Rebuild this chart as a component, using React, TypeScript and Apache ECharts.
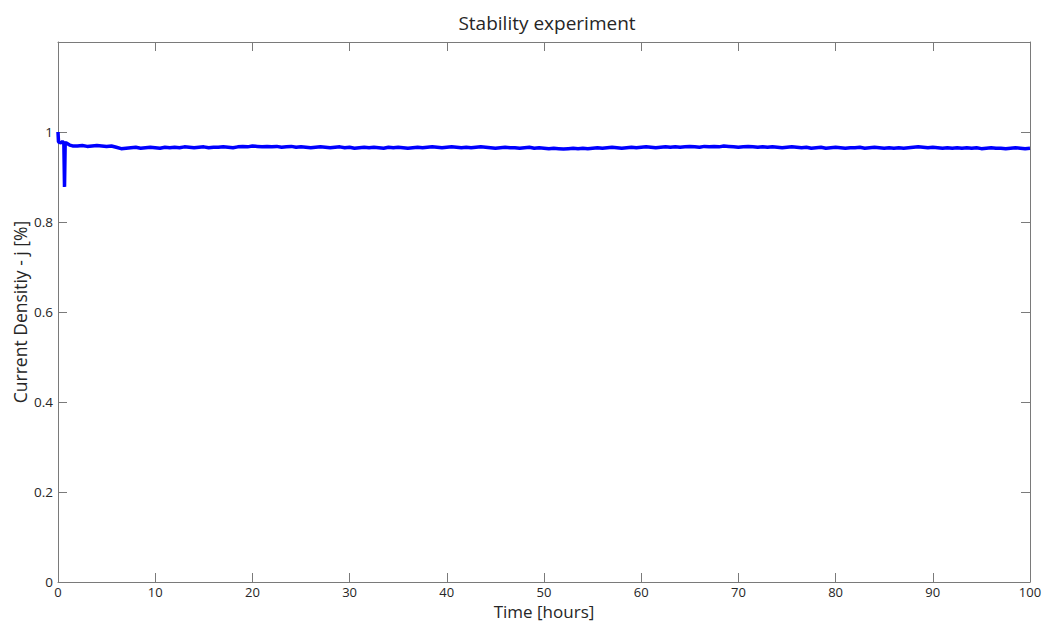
import React, { useEffect, useRef } from "react";
import * as echarts from "echarts";

const titleText = "Stability experiment";
const xName = "Time [hours]";
const yName = "Current Densitiy - j [%]";

// initial transient (hours, relative current density)
const startTimes = [0, 0.05, 0.15, 0.3, 0.45, 0.6, 0.67, 0.74, 0.9, 1.2, 1.5];
const startValues = [1.0, 0.978, 0.977, 0.976, 0.979, 0.976, 0.878, 0.976, 0.975, 0.971, 0.969];

// regular samples every 0.5 h from 2 h to 100 h
const regularStart = 2;
const regularStep = 0.5;
const regularValues = [
  0.969, 0.970, 0.968, 0.969, 0.970, 0.969, 0.968, 0.969, 0.966, 0.963,
  0.964, 0.965, 0.966, 0.964, 0.965, 0.966, 0.965, 0.964, 0.966, 0.965,
  0.966, 0.965, 0.967, 0.966, 0.965, 0.966, 0.967, 0.965, 0.966, 0.966,
  0.967, 0.966, 0.965, 0.967, 0.968, 0.967, 0.969, 0.968, 0.967, 0.968,
  0.967, 0.968, 0.966, 0.967, 0.968, 0.966, 0.967, 0.966, 0.965, 0.966,
  0.967, 0.966, 0.965, 0.966, 0.967, 0.965, 0.966, 0.964, 0.965, 0.966,
  0.965, 0.966, 0.965, 0.964, 0.966, 0.965, 0.966, 0.965, 0.964, 0.965,
  0.966, 0.965, 0.966, 0.967, 0.966, 0.965, 0.966, 0.967, 0.966, 0.965,
  0.966, 0.965, 0.966, 0.967, 0.966, 0.965, 0.964, 0.965, 0.966, 0.965,
  0.965, 0.964, 0.965, 0.966, 0.964, 0.965, 0.964, 0.963, 0.964, 0.963,
  0.962, 0.963, 0.964, 0.963, 0.964, 0.963, 0.964, 0.965, 0.964, 0.965,
  0.966, 0.965, 0.964, 0.965, 0.966, 0.965, 0.966, 0.967, 0.966, 0.965,
  0.966, 0.967, 0.966, 0.967, 0.966, 0.967, 0.968, 0.967, 0.966, 0.968,
  0.967, 0.968, 0.967, 0.969, 0.968, 0.967, 0.966, 0.967, 0.968, 0.967,
  0.966, 0.967, 0.966, 0.967, 0.966, 0.965, 0.966, 0.967, 0.966, 0.965,
  0.966, 0.964, 0.965, 0.966, 0.964, 0.965, 0.966, 0.965, 0.964, 0.965,
  0.965, 0.966, 0.964, 0.965, 0.966, 0.965, 0.964, 0.965, 0.964, 0.965,
  0.964, 0.965, 0.966, 0.967, 0.966, 0.965, 0.966, 0.965, 0.964, 0.965,
  0.964, 0.965, 0.964, 0.965, 0.964, 0.965, 0.963, 0.964, 0.965, 0.964,
  0.964, 0.963, 0.964, 0.965, 0.964, 0.963, 0.964,
];

const xMin = 0;
const xMax = 100;
const xInterval = 10;
const yMin = 0;
const yMax = 1.2;
const yInterval = 0.2;
const yLabelMax = 1;

const FONT = "'Open Sans', 'Noto Sans', sans-serif";
const AXIS_COLOR = "#7a7a7a";
const TEXT_COLOR = "#262626";

export default function App() {
  const ref = useRef<HTMLDivElement | null>(null);

  useEffect(() => {
    if (!ref.current) return;
    const chart = echarts.init(ref.current, undefined, { renderer: "svg" });

    const data: [number, number][] = [];
    startTimes.forEach((t, i) => data.push([t, startValues[i]]));
    regularValues.forEach((v, i) => data.push([regularStart + i * regularStep, v]));

    const tickStyle = { show: true, inside: true, length: 9, lineStyle: { color: AXIS_COLOR, width: 1 } };
    const lineStyle = { show: true, onZero: false, lineStyle: { color: AXIS_COLOR, width: 1 } };

    chart.setOption({
      animation: false,
      backgroundColor: "#ffffff",
      title: {
        text: titleText,
        left: 542,
        textAlign: "center",
        top: 8,
        textStyle: { fontFamily: FONT, fontSize: 19, fontWeight: "normal", color: TEXT_COLOR },
      },
      grid: { left: 58, right: 14, top: 42, bottom: 41, containLabel: false, outerBoundsMode: "none" },
      xAxis: [
        {
          type: "value",
          min: xMin,
          max: xMax,
          interval: xInterval,
          position: "bottom",
          name: xName,
          nameLocation: "middle",
          nameGap: 21,
          nameMoveOverlap: false,
          nameTextStyle: { fontFamily: FONT, fontSize: 17, color: TEXT_COLOR, lineHeight: 17 },
          axisLine: lineStyle,
          axisTick: tickStyle,
          splitLine: { show: false },
          axisLabel: { fontFamily: FONT, fontSize: 13, color: TEXT_COLOR, margin: 3, lineHeight: 13 },
        },
        {
          type: "value",
          min: xMin,
          max: xMax,
          interval: xInterval,
          position: "top",
          axisLine: lineStyle,
          axisTick: tickStyle,
          splitLine: { show: false },
          axisLabel: { show: false },
        },
      ],
      yAxis: [
        {
          type: "value",
          min: yMin,
          max: yMax,
          interval: yInterval,
          position: "left",
          name: yName,
          nameLocation: "middle",
          nameGap: 29,
          nameMoveOverlap: false,
          nameTextStyle: { fontFamily: FONT, fontSize: 17.5, color: TEXT_COLOR },
          axisLine: lineStyle,
          axisTick: tickStyle,
          splitLine: { show: false },
          axisLabel: {
            fontFamily: FONT,
            fontSize: 13.5,
            color: TEXT_COLOR,
            margin: 5,
            formatter: (v: number) => (v > yLabelMax + 1e-9 ? "" : String(Math.round(v * 10) / 10)),
          },
        },
        {
          type: "value",
          min: yMin,
          max: yMax,
          interval: yInterval,
          position: "right",
          axisLine: lineStyle,
          axisTick: tickStyle,
          splitLine: { show: false },
          axisLabel: { show: false },
        },
      ],
      series: [
        {
          type: "line",
          data,
          xAxisIndex: 0,
          yAxisIndex: 0,
          showSymbol: false,
          symbol: "none",
          lineStyle: { color: "#0000ff", width: 3.5 },
        },
      ],
    });

    return () => chart.dispose();
  }, []);

  return (
    <div
      ref={ref}
      style={{ position: "fixed", left: 0, top: 0, width: 1044, height: 623, background: "#fff" }}
    />
  );
}
